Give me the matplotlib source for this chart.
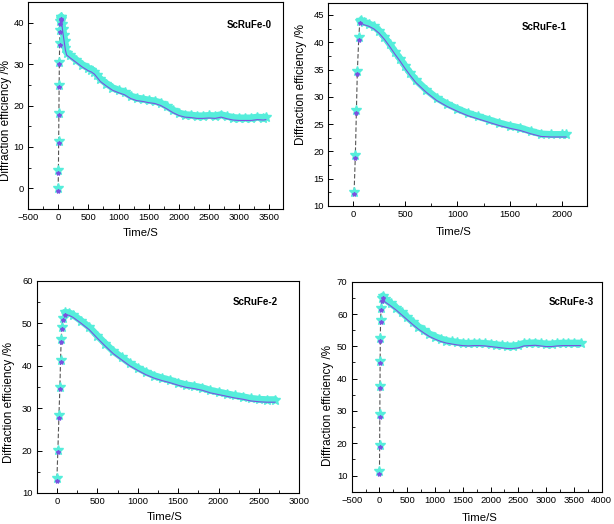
import matplotlib
matplotlib.use("Agg")
import matplotlib.pyplot as plt
import matplotlib.transforms as mtransforms
from matplotlib.ticker import MultipleLocator

plt.rcParams['font.family'] = ['Liberation Sans', 'DejaVu Sans']

# ScRuFe-0
t0 = [0, 4, 8, 12, 16, 20, 24, 30, 36, 42, 48,
      55, 65, 75, 90, 105, 120, 140, 200, 300, 400, 500, 550, 600, 650, 700,
      800, 900, 1000, 1100, 1200, 1300, 1400, 1500, 1600, 1700, 1800, 1900,
      2000, 2100, 2200, 2300, 2400, 2500, 2600, 2700, 2800, 2900, 3000, 3100,
      3200, 3300, 3400, 3440]
y0 = [0.0, 4.4, 11.5, 18.2, 25.0, 30.6, 35.2, 38.3, 40.3, 41.3, 41.5,
      41.0, 39.8, 38.5, 37.0, 35.5, 34.0, 32.8, 32.1, 31.0, 29.9, 29.0, 28.7, 28.2, 27.3, 26.4,
      25.3, 24.3, 23.7, 23.2, 22.3, 21.8, 21.6, 21.3, 21.1, 20.6, 19.8, 18.9,
      18.2, 17.8, 17.7, 17.5, 17.5, 17.6, 17.5, 17.8, 17.4, 17.1, 17.0, 17.0,
      17.0, 17.2, 17.1, 17.2]
peak0 = 10

# ScRuFe-1
t1 = [10, 22, 32, 41, 55, 65,
      80, 100, 150, 200, 250, 300, 350, 400, 450, 500, 550, 600, 700, 800,
      900, 1000, 1100, 1200, 1300, 1400, 1500, 1600, 1700, 1800, 1900, 2000, 2040]
y1 = [12.6, 19.3, 27.5, 34.7, 40.9, 43.9,
      44.0, 43.7, 43.4, 42.9, 42.1, 41.0, 39.7, 38.3, 37.0, 35.6, 34.3, 33.1, 31.3, 29.8,
      28.7, 27.8, 27.0, 26.4, 25.8, 25.2, 24.7, 24.3, 23.7, 23.2, 23.1, 23.1, 23.1]
peak1 = 5

# ScRuFe-2
t2 = [0, 12, 25, 37, 45, 53, 62, 74, 95,
      150, 200, 300, 400, 500, 600, 700, 800, 900, 1000, 1100, 1200, 1300, 1400,
      1500, 1600, 1700, 1800, 1900, 2000, 2100, 2200, 2300, 2400, 2500, 2600, 2700]
y2 = [13.5, 20.2, 28.3, 35.0, 41.4, 46.2, 49.2, 51.3, 52.6,
      52.5, 52.0, 50.6, 49.1, 47.1, 45.2, 43.4, 42.0, 40.6, 39.5, 38.5, 37.7, 37.1, 36.6,
      36.0, 35.5, 35.2, 34.8, 34.2, 33.8, 33.4, 33.0, 32.7, 32.3, 32.1, 32.0, 32.0]
peak2 = 8

# ScRuFe-3
t3 = [0, 3, 6, 9, 12, 15, 20, 30, 45, 60,
      100, 200, 300, 400, 500, 600, 700, 800, 900, 1000, 1100, 1200, 1300, 1400,
      1500, 1600, 1700, 1800, 1900, 2000, 2100, 2200, 2300, 2400, 2500, 2600, 2700,
      2800, 2900, 3000, 3100, 3200, 3300, 3400, 3500, 3620]
y3 = [11.3, 19.6, 29.0, 37.8, 45.6, 52.5, 58.2, 62.0, 64.9, 65.6,
      64.5, 63.3, 62.0, 60.5, 59.0, 57.5, 56.1, 54.9, 53.8, 53.0, 52.3, 51.8, 51.5, 51.2,
      51.0, 50.9, 51.0, 51.0, 50.9, 50.7, 50.5, 50.3, 50.1, 50.1, 50.3, 50.9, 51.0,
      51.1, 50.9, 50.7, 50.7, 50.9, 51.0, 51.0, 51.0, 51.0]
peak3 = 9

names = ['ScRuFe-0', 'ScRuFe-1', 'ScRuFe-2', 'ScRuFe-3']
cyan = '#55eedb'
purple = '#7a52e0'

fig = plt.figure(figsize=(6.14, 5.24), dpi=100)

panels = [
    # rect, data, xlim, ylim, xticks, yticks, name pos, ylabel pos, xlabel pos
    ([0.0456, 0.6011, 0.4158, 0.3950], t0, y0, peak0, (-500, 3730), (-5, 45),
     range(-500, 3501, 500), range(0, 41, 10), (0.865, 0.889), (-0.063, 0.43), (0.443, -0.093)),
    ([0.5342, 0.6069, 0.4218, 0.3874], t1, y1, peak1, (-240, 2240), (10, 47.2),
     range(0, 2001, 500), range(10, 46, 5), (0.834, 0.883), (-0.081, 0.60), (0.487, -0.102)),
    ([0.0598, 0.0592, 0.4277, 0.4046], t2, y2, peak2, (-250, 3000), (10, 60),
     range(0, 3001, 500), range(10, 61, 10), (0.834, 0.90), (-0.083, 0.425), (0.487, -0.088)),
    ([0.5728, 0.0616, 0.4072, 0.4008], t3, y3, peak3, (-500, 4000), (5, 70),
     range(-500, 4001, 500), range(10, 71, 10), (0.878, 0.905), (-0.07, 0.41), (0.51, -0.103)),
]

for i, (rect, t, y, pk, xl, yl, xt, yt, npos, ypos, xpos) in enumerate(panels):
    ax = fig.add_axes(rect)
    shift = mtransforms.offset_copy(ax.transData, fig=fig, x=0, y=-2.5, units='dots')

    ax.plot(t, y, ls=(0, (4, 2)), color='#555555', lw=0.8, zorder=2)
    ax.plot(t[pk:], y[pk:], color=cyan, lw=5, solid_capstyle='round', zorder=3)
    ax.plot(t, y, ls='none', marker='*', ms=7, color=cyan, mec=cyan, zorder=4)
    ax.plot(t[pk:], y[pk:], color=purple, lw=0.8, transform=shift, zorder=5)
    ax.plot(t[:pk + 1], y[:pk + 1], ls='none', marker='*', ms=3, color=purple,
            mec=purple, transform=shift, zorder=5)

    ax.set_xlim(*xl)
    ax.set_ylim(*yl)
    ax.set_xticks(list(xt))
    ax.set_yticks(list(yt))
    ax.xaxis.set_minor_locator(MultipleLocator(250))
    ax.yaxis.set_minor_locator(MultipleLocator((yt[1] - yt[0]) / 2))
    ax.tick_params(which='both', direction='in', top=False, right=False, labelsize=6.8, pad=3)
    ax.tick_params(which='major', length=3.5, width=0.7)
    ax.tick_params(which='minor', length=2, width=0.6)
    for s in ax.spines.values():
        s.set_linewidth(0.8)

    ax.set_xlabel('Time/S', fontsize=8.2)
    ax.set_ylabel('Diffraction efficiency /%', fontsize=8.4)
    ax.xaxis.set_label_coords(*xpos)
    ax.yaxis.set_label_coords(*ypos)
    ax.text(npos[0], npos[1], names[i], transform=ax.transAxes, fontsize=7,
            fontweight='bold', ha='center', va='center')

fig.savefig('out.png', dpi=100)
